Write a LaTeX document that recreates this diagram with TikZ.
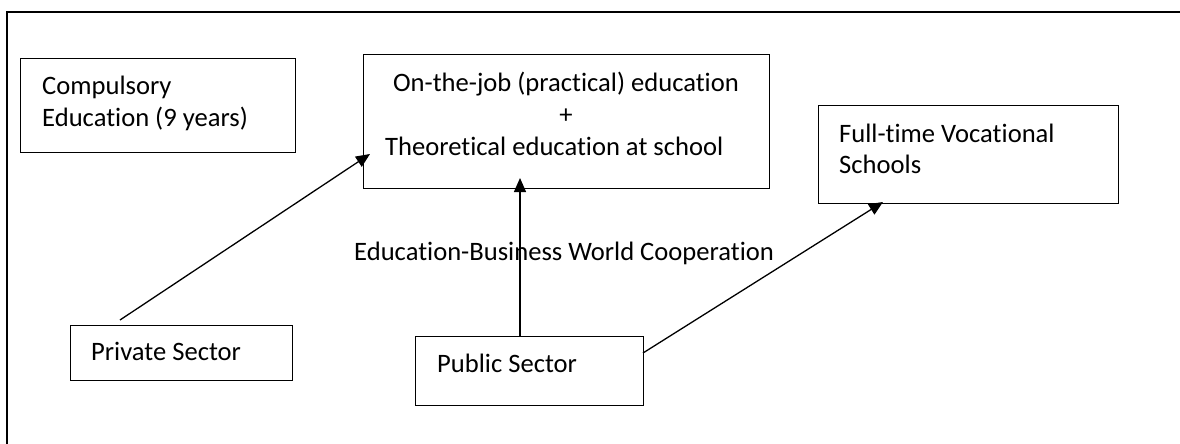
\documentclass[tikz,border=0pt]{standalone}
\usepackage{fontspec}
\setmainfont{Carlito}[Ligatures={NoCommon}]
\usetikzlibrary{arrows.meta}
\begin{document}
\begin{tikzpicture}[x=1pt,y=1pt,
  box/.style={draw=black,line width=1.3pt,inner sep=0pt,anchor=north west},
  txt/.style={inner sep=0pt,font=\fontsize{26.6}{32}\selectfont},
  conn/.style={line width=1.3pt,-{Triangle[length=14pt,width=12pt]}}]
\useasboundingbox (0,0) rectangle (1180,-444);
% frame (only top and left edges visible)
\coordinate (fr1) at (1180,-12);
\coordinate (fr2) at (7,-12);
\coordinate (fr3) at (7,-444);
\draw[line width=1.4pt] (fr1) -- (fr2) -- (fr3);
% boxes
\node[box,minimum width=275pt,minimum height=94pt] (comp) at (20,-58) {};
\node[box,minimum width=406pt,minimum height=134pt] (ojt) at (363,-54) {};
\node[box,minimum width=300pt,minimum height=98pt] (fvs) at (818,-105) {};
\node[box,minimum width=222pt,minimum height=55pt] (priv) at (70,-325) {};
\node[box,minimum width=228pt,minimum height=69pt] (pub) at (415,-336) {};
% texts
\node[txt,anchor=base west] (t1) at (42,-94) {Compulsory};
\node[txt,anchor=base west] (t2) at (42,-126) {Education (9 years)};
\node[txt,anchor=base] (t3) at (566,-91) {On-the-job (practical) education};
\node[txt,anchor=base] (t4) at (566,-123) {+};
\node[txt,anchor=base west] (t5) at (385,-155) {Theoretical education at school};
\node[txt,anchor=base west] (t6) at (839,-142) {Full-time Vocational};
\node[txt,anchor=base west] (t7) at (839,-173) {Schools};
\node[txt,anchor=base west] (t8) at (91,-360) {Private Sector};
\node[txt,anchor=base west] (t9) at (437,-372) {Public Sector};
\node[txt,anchor=base west] (lab) at (354,-260) {Education-Business World Cooperation};
% connectors
\coordinate (privout) at (120,-320);
\coordinate (ojtin1) at (370,-154);
\coordinate (pubtop) at (520,-336);
\coordinate (ojtin2) at (520,-178);
\coordinate (pubright) at (643,-353);
\coordinate (fvsin) at (883,-202);
\draw[conn] (privout) -- (ojtin1);
\draw[conn] (pubtop) -- (ojtin2);
\draw[conn] (pubright) -- (fvsin);
\end{tikzpicture}
\end{document}
